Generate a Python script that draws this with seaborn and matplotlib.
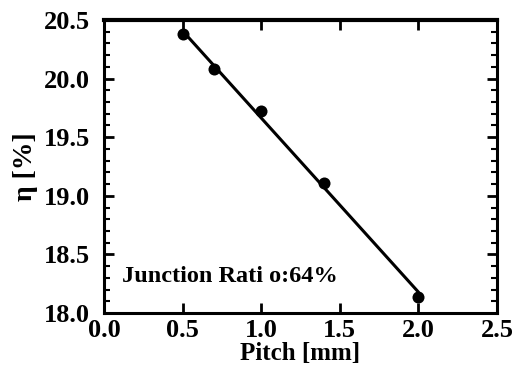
import matplotlib
matplotlib.use("Agg")
import matplotlib.pyplot as plt
import seaborn as sns
import pandas as pd
import numpy as np
from matplotlib.ticker import MultipleLocator

pitch = [0.5, 0.7, 1.0, 1.4, 2.0]
eta = [20.38, 20.08, 19.72, 19.11, 18.14]
x_ticks = [0.0, 0.5, 1.0, 1.5, 2.0, 2.5]
y_ticks = [18.0, 18.5, 19.0, 19.5, 20.0, 20.5]
annotation = "Junction Rati o:64%"

sns.set_theme(style="ticks")
plt.rcParams['font.family'] = ['Liberation Serif', 'DejaVu Serif']
plt.rcParams['font.weight'] = 'bold'
for k in ['text.color', 'axes.labelcolor', 'xtick.color', 'ytick.color', 'axes.edgecolor']:
    plt.rcParams[k] = 'black'

df = pd.DataFrame({"pitch": pitch, "eta": eta})

fig = plt.figure(figsize=(5.2, 3.72), dpi=100)
ax = fig.add_axes([104/520, 1-313/372, (497-104)/520, (313-20)/372])

sns.regplot(data=df, x="pitch", y="eta", ax=ax, ci=None, color="black",
            scatter_kws={"s": 75, "zorder": 3, "linewidths": 0, "alpha": 1},
            line_kws={"linewidth": 2.2})

ax.set_xlim(0.0, 2.5)
ax.set_ylim(18.0, 20.5)
ax.set_xticks(x_ticks)
ax.set_yticks(y_ticks)
ax.set_xticklabels([f"{v:.1f}" for v in x_ticks], fontsize=19, fontweight='bold', color='black')
ax.set_yticklabels([f"{v:.1f}" for v in y_ticks], fontsize=19, fontweight='bold', color='black')
ax.yaxis.set_minor_locator(MultipleLocator(0.1))
ax.tick_params(which='both', direction='in', top=True, right=True, color='black')
ax.tick_params(which='major', length=7, width=2)
ax.tick_params(which='minor', length=4, width=1.5)
ax.tick_params(axis='y', which='major', pad=10)
ax.tick_params(axis='x', which='major', pad=4)
ax.tick_params(axis='x', which='minor', bottom=False, top=False)

for s in ax.spines.values():
    s.set_linewidth(2.2)
    s.set_color('black')
ax.spines['top'].set_linewidth(3)

ax.set_xlabel("Pitch [mm]", fontsize=18, fontweight='bold', labelpad=0, color='black')
ax.set_ylabel("η [%]", fontsize=20, fontweight='bold', labelpad=4, color='black')

ax.text(0.115, 18.31, annotation, fontsize=17.5, fontweight='bold', va='center', ha='left', color='black')

fig.savefig("out.png", dpi=100)
